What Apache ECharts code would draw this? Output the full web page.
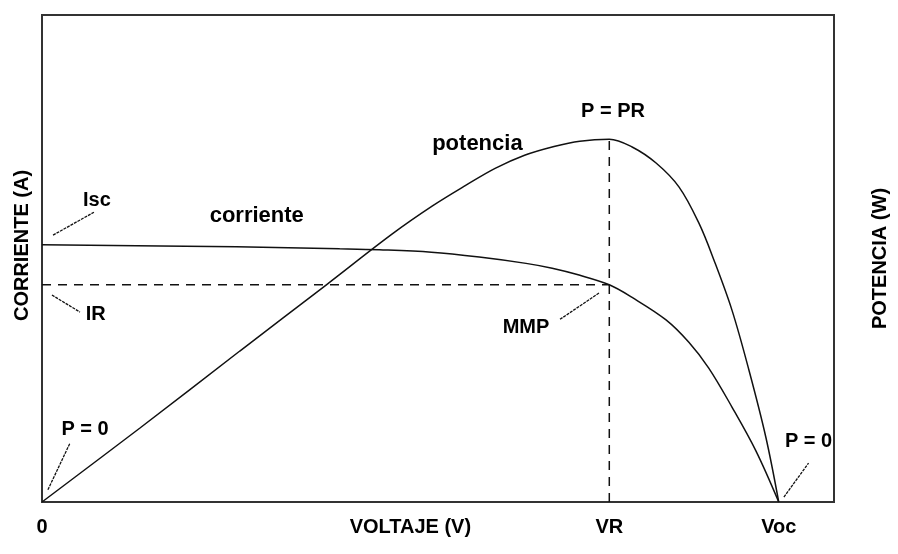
<!DOCTYPE html>
<html>
<head>
<meta charset="utf-8">
<script src="https://cdn.jsdelivr.net/npm/echarts@6/dist/echarts.min.js"></script>
<style>
  html, body { margin: 0; padding: 0; background: #fff; }
  #chart { width: 898px; height: 554px; }
</style>
</head>
<body>
<div id="chart"></div>
<script>
// curva I-V (corriente) y P-V (potencia), unidades arbitrarias
const voltajeCorriente = [0, 5.28, 8.08, 9.16, 10.57, 11.87, 13.14, 13.85, 14.58, 15.4, 16.02, 16.94, 17.56, 18.1, 18.73, 19.38, 20];
const corriente = [5.28, 5.24, 5.2, 5.18, 5.13, 5.03, 4.9, 4.8, 4.66, 4.46, 4.2, 3.74, 3.28, 2.75, 1.95, 1.05, 0];

const voltajePotencia = [0, 2.66, 5.37, 7.72, 9.5, 10.6, 11.5, 12.3, 13.1, 13.9, 14.6, 15.4, 16.02, 16.67, 17.29, 17.83, 18.24, 18.73, 19.19, 19.65, 20];
const potencia = [0, 1.52, 3.1, 4.46, 5.5, 6.08, 6.5, 6.85, 7.12, 7.3, 7.41, 7.45, 7.29, 6.96, 6.47, 5.73, 4.97, 3.94, 2.71, 1.33, 0];

// punto de máxima potencia
const VR = 15.4;
const IR = 4.46;
const PR = 7.45;
const Voc = 20;

// etiquetas del eje X
const xTickValues = [0, 10, VR, Voc];
const xTickLabels = ["0", "VOLTAJE (V)", "VR", "Voc"];

// textos dentro del gráfico: [x, y, texto]
const notas = [
  [1.49, 6.2, "Isc"],
  [1.46, 3.86, "IR"],
  [1.17, 1.48, "P = 0"],
  [15.5, 8.01, "P = PR"],
  [13.14, 3.59, "MMP"],
  [20.81, 1.25, "P = 0"]
];
// nombres de las curvas
const nombres = [
  [5.83, 5.87, "corriente"],
  [11.82, 7.36, "potencia"]
];

// líneas guía de las notas
const flechas = [
  [[0.3, 5.48], [1.41, 5.95]],
  [[0.27, 4.25], [1.03, 3.9]],
  [[0.16, 0.25], [0.76, 1.21]],
  [[15.12, 4.29], [14.04, 3.74]],
  [[20.14, 0.1], [20.81, 0.8]]
];

const font = "'Liberation Sans', Arial, sans-serif";
const zip = (a, b) => a.map((v, i) => [v, b[i]]);

const chart = echarts.init(document.getElementById("chart"));

function textoSerie(data, size) {
  return {
    type: "scatter",
    data: data,
    symbolSize: 0,
    silent: true,
    itemStyle: { opacity: 1 },
    label: {
      show: true,
      position: [0, 0],
      align: "center",
      verticalAlign: "middle",
      formatter: p => p.data[2],
      color: "#000",
      opacity: 1,
      textBorderWidth: 0,
      fontFamily: font,
      fontWeight: "bold",
      fontSize: size
    },
    z: 10
  };
}

const series = [
  {
    name: "corriente",
    type: "line",
    yAxisIndex: 0,
    data: zip(voltajeCorriente, corriente),
    smooth: 0.35,
    symbol: "none",
    lineStyle: { color: "#111", width: 1.5 },
    z: 5
  },
  {
    name: "potencia",
    type: "line",
    yAxisIndex: 1,
    data: zip(voltajePotencia, potencia),
    smooth: 0.35,
    symbol: "none",
    lineStyle: { color: "#111", width: 1.5 },
    z: 5
  },
  {
    name: "IR",
    type: "line",
    data: [[0, IR], [VR, IR]],
    symbol: "none",
    lineStyle: { color: "#111", width: 1.5, type: [9, 7] }
  },
  {
    name: "VR",
    type: "line",
    data: [[VR, 0], [VR, PR]],
    symbol: "none",
    lineStyle: { color: "#111", width: 1.5, type: [9, 7] }
  },
  textoSerie(notas, 20),
  textoSerie(nombres, 22)
];

flechas.forEach(f => {
  series.push({
    type: "line",
    data: f,
    symbol: "none",
    silent: true,
    lineStyle: { color: "#111", width: 1.3, type: [3, 1] }
  });
});

chart.setOption({
  animation: false,
  backgroundColor: "#fff",
  grid: {
    left: 42,
    right: 63,
    top: 15,
    bottom: 52,
    show: true,
    borderColor: "#333",
    borderWidth: 2
  },
  xAxis: {
    type: "value",
    min: 0,
    max: 21.5,
    splitLine: { show: false },
    axisLine: { show: false },
    axisTick: { show: false },
    axisLabel: {
      customValues: xTickValues,
      formatter: v => xTickLabels[xTickValues.indexOf(v)],
      margin: 15,
      color: "#000",
      fontFamily: font,
      fontWeight: "bold",
      fontSize: 20
    }
  },
  yAxis: [
    {
      type: "value",
      min: 0,
      max: 10,
      name: "CORRIENTE (A)",
      nameLocation: "middle",
      nameRotate: 90,
      nameGap: 10,
      nameTextStyle: { color: "#000", fontFamily: font, fontWeight: "bold", fontSize: 20, padding: [0, 0, 0, 26] },
      splitLine: { show: false },
      axisLine: { show: false },
      axisTick: { show: false },
      axisLabel: { show: false }
    },
    {
      type: "value",
      position: "right",
      min: 0,
      max: 10,
      name: "POTENCIA (W)",
      nameLocation: "middle",
      nameRotate: 90,
      nameGap: 36,
      nameTextStyle: { color: "#000", fontFamily: font, fontWeight: "bold", fontSize: 20 },
      splitLine: { show: false },
      axisLine: { show: false },
      axisTick: { show: false },
      axisLabel: { show: false }
    }
  ],
  series: series
});
</script>
</body>
</html>
